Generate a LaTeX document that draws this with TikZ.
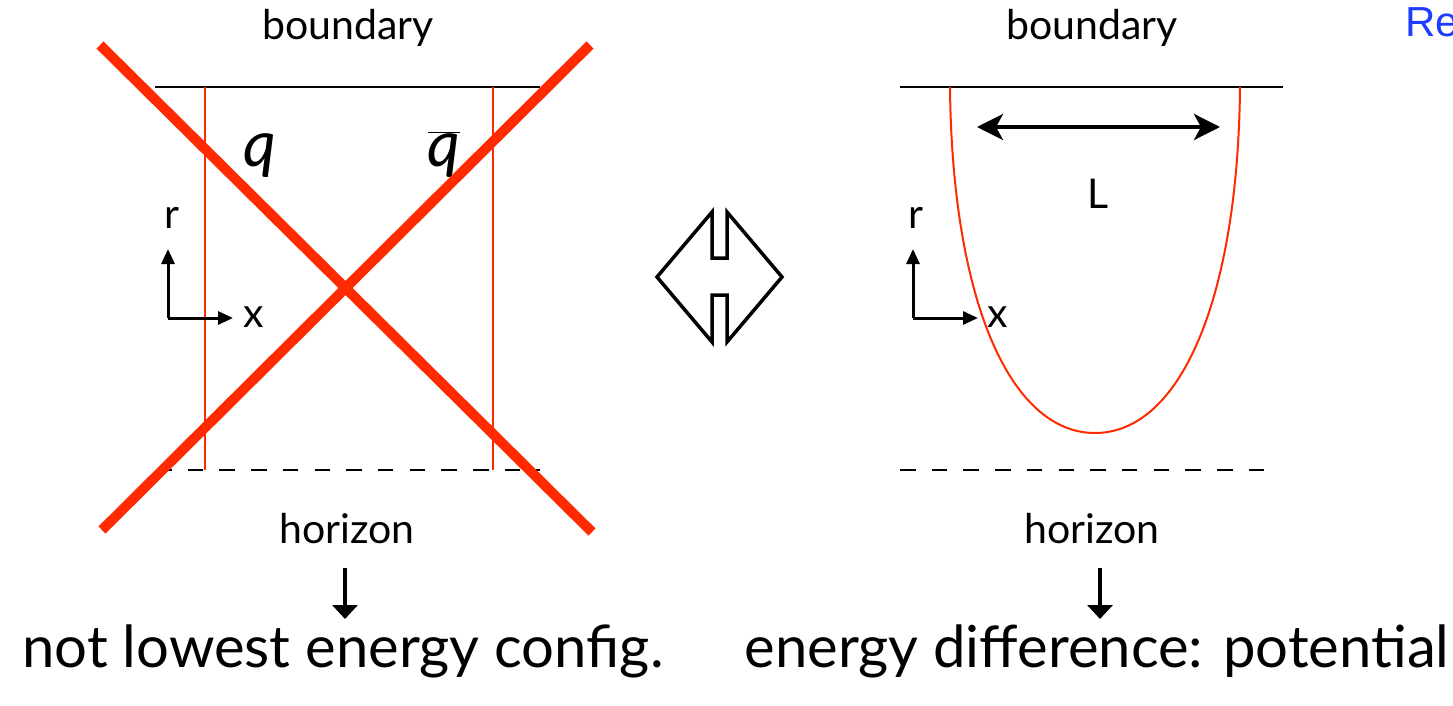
\documentclass[tikz,border=0pt]{standalone}
\usepackage{fontspec}
\setmainfont{Lato}
\newfontfamily\helv{Liberation Sans}
\usetikzlibrary{arrows.meta}
\definecolor{strR}{HTML}{FF2A00}
\definecolor{linkB}{HTML}{1E3CFF}

\begin{document}
\begin{tikzpicture}[x=1pt, y=-1pt,
  lbl/.style={font=\fontsize{41}{44}\selectfont, anchor=base, inner sep=0pt},
  big/.style={font=\fontsize{58}{62}\selectfont, anchor=base, inner sep=0pt},
  quark/.style={font=\fontsize{64}{70}\selectfont\itshape, anchor=base, inner sep=0pt},
  wall/.style={black, line width=2pt},
  horiz/.style={black, line width=2.8pt, dash pattern=on 15.5pt off 16.2pt},
  strline/.style={strR, line width=2pt},
  cross/.style={strR, line width=10pt},
  axisarr/.style={-{Triangle[length=15pt,width=13pt]}, line width=3pt},
  downarr/.style={-{Triangle[length=14pt,width=25pt]}, line width=3.5pt},
  lenarr/.style={{Stealth[length=26pt,width=26pt,inset=7pt]}-{Stealth[length=26pt,width=26pt,inset=7pt]}, line width=4pt},
]
\useasboundingbox (0,0) rectangle (1453,706);
\clip (0,0) rectangle (1453,706);

% --- left panel: straight strings ---
\node[lbl] (bndL) at (348,40) {boundary};
\coordinate (bLa) at (155,87);
\coordinate (bLb) at (540,87);
\draw[wall] (bLa) -- (bLb);
\coordinate (hLa) at (156,470);
\coordinate (hLb) at (540,470);
\draw[horiz] (hLa) -- (hLb);

\coordinate (qTop) at (205,87);   \coordinate (qBot) at (205,470);
\coordinate (qbTop) at (493,87);  \coordinate (qbBot) at (493,470);
\draw[strline] (qTop) -- (qBot);
\draw[strline] (qbTop) -- (qbBot);

\node[quark] (q) at (260,166) {q};
\node[quark] (qb) at (444,166) {$\overline{\mbox{\itshape q}}$};

% axes
\coordinate (oL) at (168,318);
\coordinate (rL) at (168,249);
\coordinate (xL) at (233,318);
\draw[axisarr] (oL) -- (rL);
\draw[axisarr] (oL) -- (xL);
\node[lbl] (rlabL) at (172,228) {r};
\node[lbl] (xlabL) at (254,327) {x};

% the cross
\coordinate (xa) at (100,45);  \coordinate (xb) at (592,532);
\coordinate (xc) at (590,45);  \coordinate (xd) at (102,530);
\draw[cross] (xa) -- (xb);
\draw[cross] (xc) -- (xd);

\node[lbl] (horL) at (347,543) {horizon};
\coordinate (dLa) at (345,568);
\coordinate (dLb) at (345,619);
\draw[downarr] (dLa) -- (dLb);
\node[big] (resL) at (343,667) {not lowest energy config.};

% --- equivalence sign ---
\draw[black, line width=3.5pt, line join=miter]
  (657,277) -- (712,212) -- (712,258) -- (727,258) -- (727,212) -- (782,277)
  -- (727,342) -- (727,295) -- (712,295) -- (712,342) -- cycle;

% --- right panel: hanging string ---
\node[lbl] (bndR) at (1092,40) {boundary};
\coordinate (bRa) at (900,87);
\coordinate (bRb) at (1283,87);
\draw[wall] (bRa) -- (bRb);
\coordinate (hRa) at (900,470);
\coordinate (hRb) at (1270,470);
\draw[horiz] (hRa) -- (hRb);

\coordinate (sL) at (950,87);
\coordinate (sBot) at (1095,433);
\coordinate (sR) at (1240,87);
\draw[strline] (sL) .. controls (952,300) and (1010,433) .. (sBot)
  .. controls (1180,433) and (1238,300) .. (sR);

\coordinate (lenA) at (977,127);
\coordinate (lenB) at (1220,127);
\draw[lenarr] (lenA) -- (lenB);
\node[lbl] (lenlab) at (1098,208) {L};

\coordinate (oR) at (913,318);
\coordinate (rR) at (913,249);
\coordinate (xR) at (978,318);
\draw[axisarr] (oR) -- (rR);
\draw[axisarr] (oR) -- (xR);
\node[lbl] (rlabR) at (916,228) {r};
\node[lbl] (xlabR) at (998,327) {x};

\node[lbl] (horR) at (1092,543) {horizon};
\coordinate (dRa) at (1100,568);
\coordinate (dRb) at (1100,619);
\draw[downarr] (dRa) -- (dRb);
\node[big] (resR) at (1097,667) {energy difference: potential};

\node[font=\fontsize{42}{44}\selectfont\helv, text=linkB, anchor=base west, inner sep=0pt] (refT) at (1405,37) {Re};
\end{tikzpicture}
\end{document}
